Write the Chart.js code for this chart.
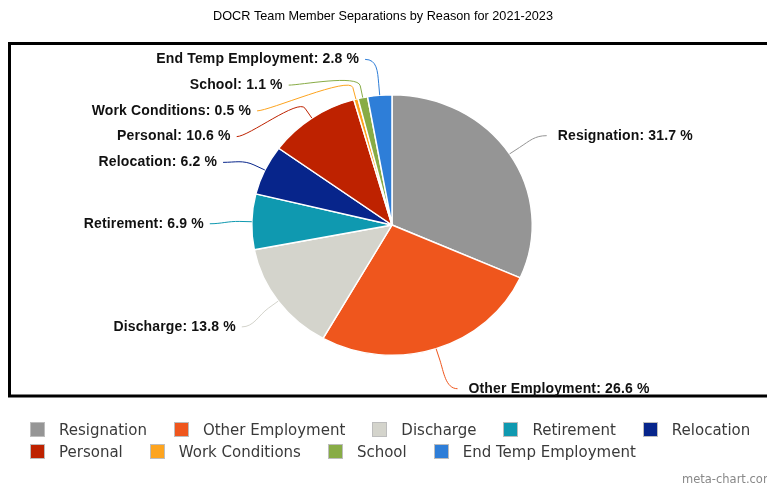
<!DOCTYPE html>
<html>
<head>
<meta charset="utf-8">
<title>DOCR Team Member Separations by Reason for 2021-2023</title>
<script src="https://cdn.jsdelivr.net/npm/chart.js@4.4.1/dist/chart.umd.min.js"></script>
<style>
    html, body { margin: 0; padding: 0; background: #fff; overflow: hidden; }
    #wrap { position: relative; width: 767px; height: 485px; overflow: hidden; }
    #chart { position: absolute; left: 0; top: 0; }
    #legend {
        position: absolute; left: 30px; top: 422px; width: 745px;
        display: flex; flex-wrap: wrap; column-gap: 27px; row-gap: 7px;
        font: 15px 'DejaVu Sans', sans-serif; color: #3a3a3a;
    }
    .item { display: flex; align-items: center; height: 15px; white-space: nowrap; }
    .swatch { width: 13px; height: 13px; border: 1px solid #bdbdbd; margin-right: 14px; flex: none; }
    #credit {
        position: absolute; left: 682px; top: 472px; white-space: nowrap;
        font: 11.5px 'DejaVu Sans', sans-serif; color: #888;
    }
</style>
</head>
<body>
<div id="wrap">
    <canvas id="chart" width="767" height="485"></canvas>
    <div id="legend"></div>
    <div id="credit">meta-chart.com</div>
</div>
<script>
// ──────────────────────────────────────────────
// Данные
// ──────────────────────────────────────────────
const TITLE = 'DOCR Team Member Separations by Reason for 2021-2023';
const reasons = ['Resignation', 'Other Employment', 'Discharge', 'Retirement', 'Relocation',
                 'Personal', 'Work Conditions', 'School', 'End Temp Employment'];
const shares  = [31.7, 26.6, 13.8, 6.9, 6.2, 10.6, 0.5, 1.1, 2.8];
const sliceColors = ['#959595', '#ef561d', '#d4d4cc', '#0f99b0', '#07258b',
                     '#be2200', '#fda41f', '#88ac46', '#2e7ed8'];

// круг немного сплющен по вертикали
const SQUASH = 0.929;

// ──────────────────────────────────────────────
// Заголовок и рамка
// ──────────────────────────────────────────────
const frame = {
    id: 'frame',
    beforeDraw(chart) {
        const ctx = chart.ctx;
        ctx.save();
        ctx.fillStyle = '#fff';
        ctx.fillRect(0, 0, chart.width, chart.height);
        ctx.fillStyle = '#000';
        ctx.font = '12.7px "Liberation Sans", Arial, sans-serif';
        ctx.textAlign = 'center';
        ctx.textBaseline = 'middle';
        ctx.fillText(TITLE, 383, 16);
        ctx.lineWidth = 3;
        ctx.strokeStyle = '#000';
        ctx.strokeRect(9.5, 43.5, 800, 352.5);
        ctx.restore();
    }
};

const ellipsePie = {
    id: 'ellipsePie',
    beforeDatasetsDraw(chart) {
        const arc = chart.getDatasetMeta(0).data[0];
        const ctx = chart.ctx;
        ctx.save();
        ctx.translate(arc.x, arc.y);
        ctx.scale(1, SQUASH);
        ctx.translate(-arc.x, -arc.y);
    },
    afterDatasetsDraw(chart) {
        chart.ctx.restore();
    }
};

// ──────────────────────────────────────────────
// Подписи с выносками
// ──────────────────────────────────────────────
const pieLabels = {
    id: 'pieLabels',
    afterDatasetsDraw(chart) {
        const ctx  = chart.ctx;
        const arcs = chart.getDatasetMeta(0).data;
        const cx = arcs[0].x, cy = arcs[0].y;
        const rx = arcs[0].outerRadius, ry = rx * SQUASH;
        const Rx = rx + 30, Ry = ry + 39;
        const gap = 25.75;

        const items = arcs.map((a, i) => {
            const m = (a.startAngle + a.endAngle) / 2;
            return { i, m, side: Math.cos(m) < 0 ? -1 : 1, y: cy + Ry * Math.sin(m) };
        });

        // раздвигаем подписи по вертикали, чтобы не налезали
        [-1, 1].forEach(side => {
            const list = items.filter(o => o.side === side).sort((a, b) => a.y - b.y);
            for (let k = 0; k < list.length; k++) {
                const lo = k ? list[k - 1].y + gap : cy - Ry;
                list[k].y = Math.max(list[k].y, lo);
            }
            for (let k = list.length - 1; k >= 0; k--) {
                const hi = k < list.length - 1 ? list[k + 1].y - gap : cy + Ry;
                list[k].y = Math.min(list[k].y, hi);
            }
        });

        ctx.save();
        ctx.font = 'bold 14px "Liberation Sans", Arial, sans-serif';
        ctx.letterSpacing = '0.15px';
        ctx.textBaseline = 'middle';
        items.forEach(o => {
            const t  = Math.max(-1, Math.min(1, (o.y - cy) / Ry));
            const lx = cx + o.side * Rx * Math.sqrt(1 - t * t);
            const px = lx + o.side * 12, py = o.y + 3;
            const ex = cx + rx * Math.cos(o.m), ey = cy + ry * Math.sin(o.m);
            const bx = cx + (rx + 12) * Math.cos(o.m), by = cy + (ry + 12) * Math.sin(o.m);

            ctx.strokeStyle = sliceColors[o.i];
            ctx.lineWidth = 1;
            ctx.beginPath();
            ctx.moveTo(px, py);
            ctx.bezierCurveTo(lx, py, 2 * bx - ex, 2 * by - ey, bx, by);
            ctx.lineTo(ex, ey);
            ctx.stroke();

            ctx.fillStyle = '#111';
            ctx.textAlign = o.side < 0 ? 'right' : 'left';
            ctx.fillText(`${reasons[o.i]}: ${shares[o.i]} %`, px + (o.side < 0 ? -6 : 11), py);
        });
        ctx.restore();
    }
};

// ──────────────────────────────────────────────
// Легенда
// ──────────────────────────────────────────────
function buildLegend() {
    const box = document.getElementById('legend');
    reasons.forEach((name, i) => {
        const item = document.createElement('div');
        item.className = 'item';
        item.innerHTML = `<span class="swatch" style="background:${sliceColors[i]}"></span><span>${name}</span>`;
        box.appendChild(item);
    });
}

// ──────────────────────────────────────────────
// График
// ──────────────────────────────────────────────
new Chart(document.getElementById('chart'), {
    type: 'pie',
    data: {
        labels: reasons,
        datasets: [{
            data: shares,
            backgroundColor: sliceColors,
            borderColor: '#fff',
            borderWidth: 1.5
        }]
    },
    options: {
        responsive: false,
        animation: false,
        layout: { padding: { top: 84, bottom: 119, left: 251, right: 234 } },
        plugins: {
            legend: { display: false },
            tooltip: { enabled: false }
        }
    },
    plugins: [frame, ellipsePie, pieLabels]
});

buildLegend();
</script>
</body>
</html>
